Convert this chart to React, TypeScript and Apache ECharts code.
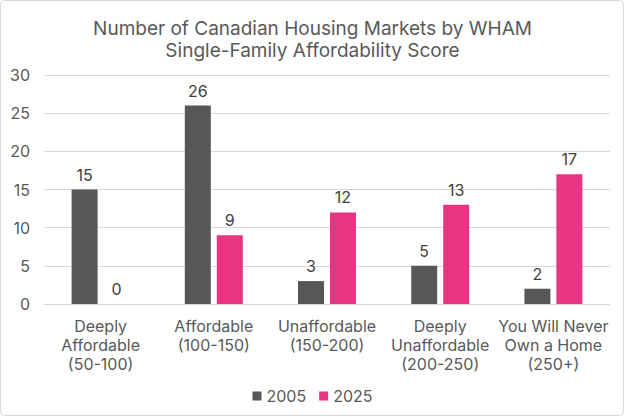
import React, { useEffect, useRef } from "react";
import * as echarts from "echarts";

const categories = [
  "Deeply\nAffordable\n(50-100)",
  "Affordable\n(100-150)",
  "Unaffordable\n(150-200)",
  "Deeply\nUnaffordable\n(200-250)",
  "You Will Never\nOwn a Home\n(250+)",
];
const values2005 = [15, 26, 3, 5, 2];
const values2025 = [0, 9, 12, 13, 17];
const seriesNames = ["2005", "2025"];
const titleText = "Number of Canadian Housing Markets by WHAM\nSingle-Family Affordability Score";

const FONT = "Inter, Roboto, sans-serif";
const TXT = "#595959";

export default function App() {
  const ref = useRef<HTMLDivElement>(null);
  useEffect(() => {
    const chart = echarts.init(ref.current!, null, { renderer: "svg" });
    const label = {
      show: true,
      position: "top",
      distance: 7,
      color: "#404040",
      fontSize: 16,
      fontWeight: "normal",
      fontFamily: FONT,
    };
    chart.setOption({
      animation: false,
      backgroundColor: "#ffffff",
      textStyle: { fontFamily: FONT },
      graphic: [
        {
          type: "rect",
          shape: { x: 0.5, y: 0.5, width: 623, height: 415, r: 4 },
          style: { fill: "none", stroke: "#d9d9d9", lineWidth: 1 },
          silent: true,
        },
      ],
      title: {
        text: titleText,
        left: "center",
        top: 13,
        textStyle: {
          fontFamily: FONT,
          fontSize: 19,
          fontWeight: "normal",
          color: TXT,
          lineHeight: 21.5,
        },
      },
      legend: {
        bottom: 8,
        left: "center",
        itemWidth: 9,
        itemHeight: 9,
        itemGap: 13,
        icon: "rect",
        textStyle: { fontFamily: FONT, fontSize: 16, color: TXT },
        data: seriesNames,
      },
      grid: { left: 44, right: 15, top: 75, bottom: 113, containLabel: false },
      xAxis: {
        type: "category",
        data: categories,
        axisTick: { show: false },
        axisLine: { lineStyle: { color: "#d9d9d9" } },
        axisLabel: {
          color: TXT,
          fontSize: 16,
          fontFamily: FONT,
          lineHeight: 19,
          margin: 12,
          interval: 0,
        },
      },
      yAxis: {
        type: "value",
        min: 0,
        max: 30,
        interval: 5,
        axisLabel: { color: TXT, fontSize: 16, fontFamily: FONT, margin: 14 },
        splitLine: { lineStyle: { color: "#d9d9d9" } },
        axisLine: { show: false },
        axisTick: { show: false },
      },
      series: [
        {
          name: seriesNames[0],
          type: "bar",
          data: values2005,
          barWidth: 26,
          barGap: "23%",
          itemStyle: { color: "#595659" },
          label,
        },
        {
          name: seriesNames[1],
          type: "bar",
          data: values2025,
          barWidth: 26,
          itemStyle: { color: "#E83583" },
          label,
        },
      ],
    });
    return () => chart.dispose();
  }, []);
  return (
    <div
      ref={ref}
      style={{ position: "absolute", left: 0, top: 0, width: 625, height: 417 }}
    />
  );
}
